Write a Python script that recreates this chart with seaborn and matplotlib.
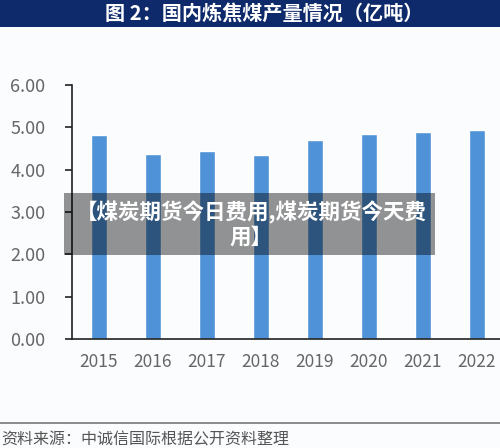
import matplotlib
matplotlib.use("Agg")
import matplotlib.pyplot as plt
import seaborn as sns
import pandas as pd
from matplotlib.patches import Rectangle

years = ["2015", "2016", "2017", "2018", "2019", "2020", "2021", "2022"]
output = [4.83, 4.36, 4.45, 4.34, 4.70, 4.84, 4.89, 4.94]
y_ticks = [0, 1, 2, 3, 4, 5, 6]
title = "图 2：国内炼焦煤产量情况（亿吨）"
source = "资料来源：中诚信国际根据公开资料整理"
overlay = "【煤炭期货今日费用,煤炭期货今天费\n用】"

sns.set_style("ticks")
plt.rcParams["font.family"] = ["Noto Sans CJK SC", "DejaVu Sans"]

df = pd.DataFrame({"year": years, "output": output})

fig = plt.figure(figsize=(5, 4.48), dpi=100)
fig.patch.set_facecolor("#fbfcfe")

# title banner
fig.patches.append(Rectangle((0, 1 - 27 / 448), 1, 27 / 448, transform=fig.transFigure,
                             facecolor="#0e2a6a", edgecolor="none", zorder=0))
fig.text(0.528, 1 - 13 / 448, title, color="white", fontsize=14.5, fontweight="bold",
         ha="center", va="center")

ax = fig.add_axes([0.144, 1 - 339 / 448, 0.864, (339 - 85) / 448])
ax.set_facecolor("none")
sns.barplot(data=df, x="year", y="output", color="#4f92d8", saturation=1,
            width=0.3, ax=ax)
ax.set_xlim(-0.5, 7.5)
ax.set_ylim(0, 6)
ax.set_yticks(y_ticks)
ax.set_yticklabels([f"{v:.2f}" for v in y_ticks])
ax.set_xlabel("")
ax.set_ylabel("")
sns.despine(ax=ax, top=True, right=True)
ax.spines["left"].set_color("#222222")
ax.spines["bottom"].set_color("#222222")
ax.spines["left"].set_linewidth(1.2)
ax.spines["bottom"].set_linewidth(1.2)
ax.tick_params(axis="y", direction="out", length=5, width=1.2, color="#222222",
               labelsize=13, labelcolor="#666666", pad=14)
ax.tick_params(axis="x", length=0, labelsize=12.5, labelcolor="#666666", pad=10)

# bottom rule and source
fig.add_artist(plt.Line2D([0, 1], [1 - 423 / 448, 1 - 423 / 448], color="#777777", lw=1.2))
fig.text(0.002, 1 - 440 / 448, source, color="#555555", fontsize=11.5, ha="left", va="center",
         style="italic")

# translucent overlay caption
fig.patches.append(Rectangle((64 / 500, 1 - 255 / 448), (435 - 64) / 500, 62 / 448,
                             transform=fig.transFigure, facecolor="black", alpha=0.42,
                             edgecolor="none", zorder=5))
fig.text(251 / 500, 1 - 224 / 448, overlay, color="white", fontsize=15.5, fontweight="bold",
         ha="center", va="center", linespacing=1.15, zorder=6)

fig.savefig("out.png", dpi=100, facecolor=fig.get_facecolor())
